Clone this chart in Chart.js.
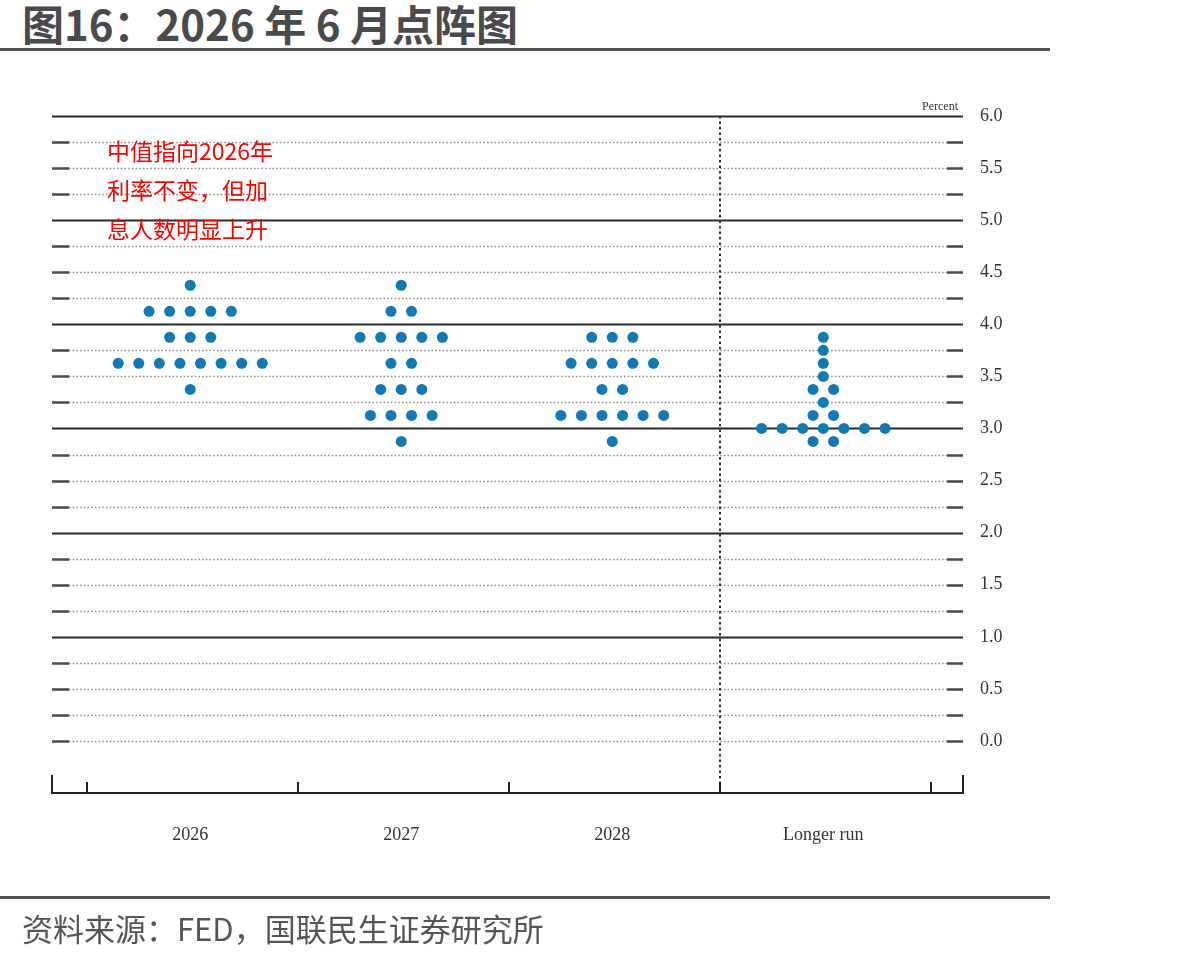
<!DOCTYPE html>
<html>
<head>
<meta charset="utf-8">
<script src="https://cdn.jsdelivr.net/npm/chart.js@4"></script>
<style>
  body { margin: 0; background: #fff; width: 1199px; height: 960px; position: relative; overflow: hidden; }
  #title { position: absolute; left: 22px; top: -8px; font: bold 42px 'Noto Sans CJK SC', sans-serif; color: #4a4a4c; white-space: nowrap; }
  #topRule { position: absolute; left: 0; top: 48px; width: 1050px; height: 3px; background: #555; }
  #bottomRule { position: absolute; left: 0; top: 896px; width: 1050px; height: 3px; background: #555; }
  #source { position: absolute; left: 22px; top: 905px; font: 31px 'Noto Sans CJK SC', sans-serif; color: #555; white-space: nowrap; }
  #note { position: absolute; left: 107px; top: 131px; font: 23px 'Noto Sans CJK SC', sans-serif; color: #ff0000; line-height: 39px; }
  #unit { position: absolute; left: 922px; top: 99px; font: 12px 'Liberation Serif', serif; color: #333; }
  canvas { position: absolute; left: 0; top: 0; }
</style>
</head>
<body>
<div id="title">图16：2026 年 6 月点阵图</div>
<div id="topRule"></div>
<canvas id="chart" width="1199" height="960"></canvas>
<div id="note">中值指向2026年<br>利率不变，但加<br>息人数明显上升</div>
<div id="unit">Percent</div>
<div id="bottomRule"></div>
<div id="source">资料来源：FED，国联民生证券研究所</div>
<script>
const categories = ['2026', '2027', '2028', 'Longer run']

// 各年份的利率档位与对应点数
const rates2026 = [4.375, 4.125, 3.875, 3.625, 3.375]
const counts2026 = [1, 5, 3, 8, 1]
const rates2027 = [4.375, 4.125, 3.875, 3.625, 3.375, 3.125, 2.875]
const counts2027 = [1, 2, 5, 2, 3, 4, 1]
const rates2028 = [3.875, 3.625, 3.375, 3.125, 2.875]
const counts2028 = [3, 5, 2, 6, 1]
const ratesLonger = [3.875, 3.75, 3.625, 3.5, 3.375, 3.25, 3.125, 3.0, 2.875]
const countsLonger = [1, 1, 1, 1, 2, 1, 2, 7, 2]

const yTicks = [0, 0.5, 1, 1.5, 2, 2.5, 3, 3.5, 4, 4.5, 5, 5.5, 6]

const allRates = [rates2026, rates2027, rates2028, ratesLonger]
const allCounts = [counts2026, counts2027, counts2028, countsLonger]
const dotStep = 0.0975
const boundaryShift = 0.01

const points = []
allRates.forEach((rates, ci) => {
  rates.forEach((r, k) => {
    const n = allCounts[ci][k]
    for (let j = 0; j < n; j++) {
      points.push({ x: ci + (j - (n - 1) / 2) * dotStep, y: r })
    }
  })
})

// 网格、框线
const framePlugin = {
  id: 'frame',
  beforeDatasetsDraw(chart) {
    const ctx = chart.ctx
    const area = chart.chartArea
    const xs = chart.scales.x
    const ys = chart.scales.y
    ctx.save()
    for (let v = 0; v <= 6; v += 0.25) {
      const py = Math.round(ys.getPixelForValue(v)) + 0.5
      if (v >= 1 && Number.isInteger(v)) {
        ctx.setLineDash([])
        ctx.strokeStyle = '#2a2a2a'
        ctx.lineWidth = 2
        ctx.beginPath()
        ctx.moveTo(area.left, py)
        ctx.lineTo(area.right, py)
        ctx.stroke()
      } else {
        ctx.setLineDash([])
        ctx.strokeStyle = '#4a4a4a'
        ctx.lineWidth = 2.5
        ctx.beginPath()
        ctx.moveTo(area.left, py)
        ctx.lineTo(area.left + 17, py)
        ctx.moveTo(area.right - 16, py)
        ctx.lineTo(area.right, py)
        ctx.stroke()
        ctx.setLineDash([1.5, 2.2])
        ctx.strokeStyle = '#8a8a8a'
        ctx.lineWidth = 1.3
        ctx.beginPath()
        ctx.moveTo(area.left + 17, py)
        ctx.lineTo(area.right - 16, py)
        ctx.stroke()
      }
    }
    // 长期分隔虚线
    const sx = Math.round(xs.getPixelForValue(2.5 + boundaryShift))
    ctx.setLineDash([2.5, 3])
    ctx.strokeStyle = '#333'
    ctx.lineWidth = 2
    ctx.beginPath()
    ctx.moveTo(sx, area.top)
    ctx.lineTo(sx, area.bottom)
    ctx.stroke()
    // x 轴
    ctx.setLineDash([])
    ctx.strokeStyle = '#222'
    ctx.lineWidth = 2
    ctx.beginPath()
    ctx.moveTo(area.left, area.bottom - 18)
    ctx.lineTo(area.left, area.bottom)
    ctx.lineTo(area.right, area.bottom)
    ctx.lineTo(area.right, area.bottom - 18)
    for (const t of [-0.5, 0.5, 1.5, 2.5, 3.5]) {
      const tx = Math.round(xs.getPixelForValue(t + boundaryShift))
      ctx.moveTo(tx, area.bottom)
      ctx.lineTo(tx, area.bottom - 11)
    }
    ctx.stroke()
    ctx.restore()
  }
}

const config = {
  type: 'scatter',
  data: {
    datasets: [{
      data: points,
      backgroundColor: '#0f7ab3',
      borderColor: '#0f7ab3',
      pointRadius: 5.5,
      pointHoverRadius: 5.5,
      borderWidth: 0
    }]
  },
  options: {
    responsive: false,
    animation: false,
    layout: { padding: { left: 52, top: 116, right: 0, bottom: 0 } },
    plugins: { legend: { display: false }, tooltip: { enabled: false } },
    scales: {
      x: {
        type: 'linear',
        min: -0.655,
        max: 3.662,
        grid: { display: false, drawTicks: false },
        border: { display: false },
        afterBuildTicks: scale => { scale.ticks = categories.map((c, i) => ({ value: i })) },
        afterFit: scale => { scale.height = 167 },
        ticks: {
          autoSkip: false,
          maxRotation: 0,
          padding: 31,
          color: '#333',
          font: { family: "'Liberation Serif', serif", size: 18 },
          callback: v => categories[v]
        }
      },
      y: {
        position: 'right',
        min: -0.5,
        max: 6,
        grid: { display: false, drawTicks: false },
        border: { display: false },
        afterBuildTicks: scale => { scale.ticks = yTicks.map(v => ({ value: v })) },
        afterFit: scale => { scale.width = 236 },
        ticks: {
          padding: 17,
          color: '#333',
          font: { family: "'Liberation Serif', serif", size: 18 },
          callback: v => v.toFixed(1)
        }
      }
    }
  },
  plugins: [framePlugin]
}

new Chart(document.getElementById('chart').getContext('2d'), config)
</script>
</body>
</html>
